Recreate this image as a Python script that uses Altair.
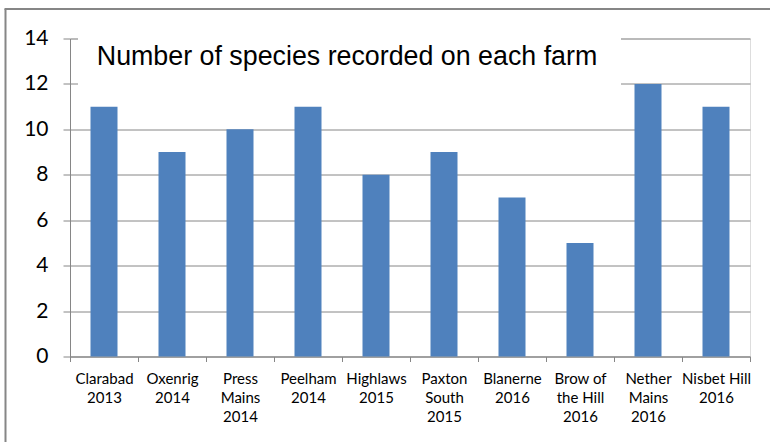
import altair as alt
import pandas as pd

farms = ["Clarabad|2013", "Oxenrig|2014", "Press|Mains|2014", "Peelham|2014",
         "Highlaws|2015", "Paxton|South|2015", "Blanerne|2016", "Brow of|the Hill|2016",
         "Nether|Mains|2016", "Nisbet Hill|2016"]
species = [11, 9, 10, 11, 8, 9, 7, 5, 12, 11]
title_text = "Number of species recorded on each farm"
y_ticks = [0, 2, 4, 6, 8, 10, 12, 14]

df = pd.DataFrame({"farm": farms, "species": species})
GRAY = "#868686"
W, H = 680, 318

bars = alt.Chart(df).mark_bar(color="#4F81BD", size=27).encode(
    x=alt.X("farm:N", sort=None,
            scale=alt.Scale(paddingInner=0, paddingOuter=0),
            axis=alt.Axis(title=None, labelAngle=0, tickBand="extent", tickSize=5,
                          labelExpr="split(datum.label, '|')", labelLineHeight=19,
                          labelFont="Lato", labelFontSize=15, labelColor="black",
                          labelBaseline="top", labelPadding=10, grid=False,
                          domainColor=GRAY, tickColor=GRAY)),
    y=alt.Y("species:Q", scale=alt.Scale(domain=[0, 14], nice=False),
            axis=alt.Axis(title=None, values=y_ticks, grid=True, gridColor=GRAY,
                          domainColor=GRAY, tickColor=GRAY, tickSize=7,
                          labelFont="Lato", labelFontSize=21, labelColor="black",
                          labelPadding=15)),
)

tdf = pd.DataFrame({"t": [title_text]})
box = alt.Chart(tdf).mark_rect(color="white").encode(
    x=alt.value(8), x2=alt.value(551), y=alt.value(-8), y2=alt.value(52))
title = alt.Chart(tdf).mark_text(font="Liberation Sans", fontSize=26.8, color="black",
                                 align="center", baseline="alphabetic").encode(
    text="t:N", x=alt.value(277), y=alt.value(26.5))

border_left = alt.Chart(tdf).mark_rule(color=GRAY, strokeWidth=2).encode(
    x=alt.value(-64.5), y=alt.value(-29.5), y2=alt.value(410))
border_top = alt.Chart(tdf).mark_rule(color=GRAY, strokeWidth=2).encode(
    x=alt.value(-65.5), x2=alt.value(720), y=alt.value(-29.5))

chart = alt.layer(bars, box, title, border_left, border_top).properties(
    width=W, height=H,
    autosize=alt.AutoSizeParams(type="none"),
    padding={"left": 70, "top": 38.5, "right": 20, "bottom": 85},
).configure_view(stroke=None).configure(background="white")

chart.save("out.html", embed_options={"renderer": "svg", "actions": False})
